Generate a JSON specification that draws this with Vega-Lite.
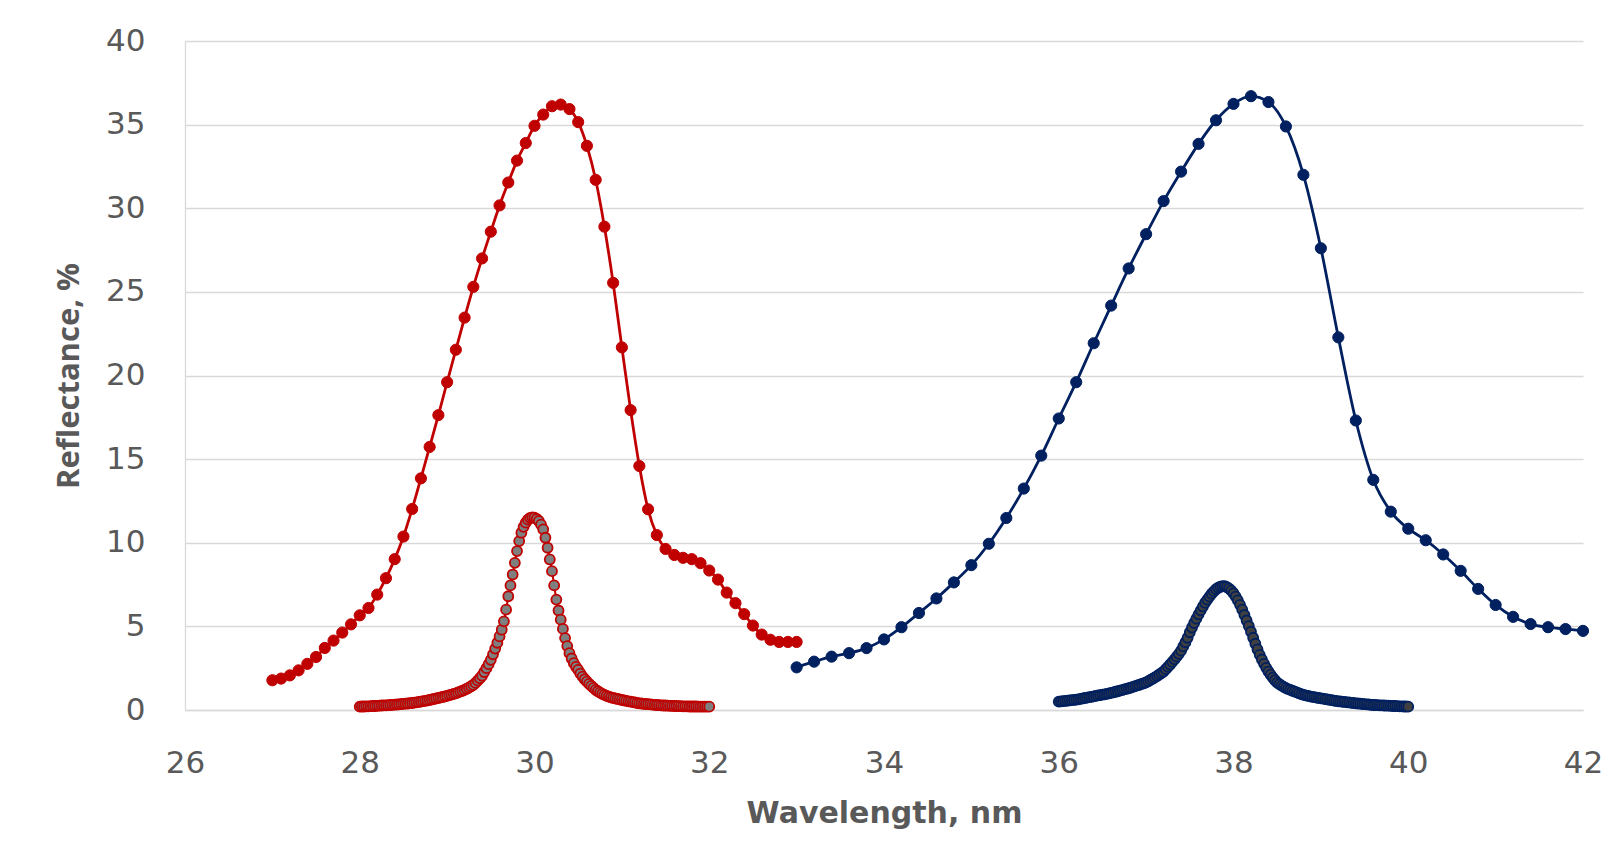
{
  "$schema": "https://vega.github.io/schema/vega-lite/v6.json",
  "autosize": {"type": "none"},
  "padding": {"left": 185, "top": 41, "right": 39, "bottom": 150},
  "width": 1398,
  "height": 669,
  "background": "white",
  "config": {"view": {"stroke": null}},
  "datasets": {
    "redWide": [
      {"x":27.0,"y":1.78},{"x":27.1,"y":1.88},{"x":27.2,"y":2.07},{"x":27.3,"y":2.37},{"x":27.4,"y":2.76},{"x":27.5,"y":3.17},{"x":27.6,"y":3.71},{"x":27.7,"y":4.15},{"x":27.8,"y":4.63},{"x":27.9,"y":5.12},
      {"x":28.0,"y":5.66},{"x":28.1,"y":6.1},{"x":28.2,"y":6.9},{"x":28.3,"y":7.88},{"x":28.4,"y":9.02},{"x":28.5,"y":10.37},{"x":28.6,"y":12.02},{"x":28.7,"y":13.85},{"x":28.8,"y":15.73},{"x":28.9,"y":17.63},
      {"x":29.0,"y":19.6},{"x":29.1,"y":21.54},{"x":29.2,"y":23.46},{"x":29.3,"y":25.3},{"x":29.4,"y":27.0},{"x":29.5,"y":28.6},{"x":29.6,"y":30.17},{"x":29.7,"y":31.54},{"x":29.8,"y":32.85},{"x":29.9,"y":33.9},
      {"x":30.0,"y":34.93},{"x":30.1,"y":35.6},{"x":30.2,"y":36.1},{"x":30.3,"y":36.2},{"x":30.4,"y":35.93},{"x":30.5,"y":35.15},{"x":30.6,"y":33.73},{"x":30.7,"y":31.7},{"x":30.8,"y":28.9},{"x":30.9,"y":25.54},
      {"x":31.0,"y":21.68},{"x":31.1,"y":17.93},{"x":31.2,"y":14.59},{"x":31.3,"y":12.0},{"x":31.4,"y":10.46},{"x":31.5,"y":9.63},{"x":31.6,"y":9.27},{"x":31.7,"y":9.1},{"x":31.8,"y":9.02},{"x":31.9,"y":8.78},
      {"x":32.0,"y":8.34},{"x":32.1,"y":7.8},{"x":32.2,"y":7.02},{"x":32.3,"y":6.39},{"x":32.4,"y":5.73},{"x":32.5,"y":5.05},{"x":32.6,"y":4.51},{"x":32.7,"y":4.2},{"x":32.8,"y":4.07},{"x":32.9,"y":4.07},{"x":33.0,"y":4.07}
    ],
    "redNarrow": [
      {"x":28.000,"y":0.20},{"x":28.025,"y":0.21},{"x":28.050,"y":0.21},{"x":28.075,"y":0.22},{"x":28.100,"y":0.22},{"x":28.125,"y":0.23},{"x":28.150,"y":0.24},{"x":28.175,"y":0.24},
      {"x":28.200,"y":0.25},{"x":28.225,"y":0.26},{"x":28.250,"y":0.27},{"x":28.275,"y":0.28},{"x":28.300,"y":0.28},{"x":28.325,"y":0.29},{"x":28.350,"y":0.30},{"x":28.375,"y":0.31},
      {"x":28.400,"y":0.32},{"x":28.425,"y":0.33},{"x":28.450,"y":0.34},{"x":28.475,"y":0.36},{"x":28.500,"y":0.37},{"x":28.525,"y":0.38},{"x":28.550,"y":0.39},{"x":28.575,"y":0.41},
      {"x":28.600,"y":0.42},{"x":28.625,"y":0.44},{"x":28.650,"y":0.46},{"x":28.675,"y":0.48},{"x":28.700,"y":0.50},{"x":28.725,"y":0.53},{"x":28.750,"y":0.55},{"x":28.775,"y":0.57},
      {"x":28.800,"y":0.60},{"x":28.825,"y":0.63},{"x":28.850,"y":0.66},{"x":28.875,"y":0.69},{"x":28.900,"y":0.72},{"x":28.925,"y":0.75},{"x":28.950,"y":0.78},{"x":28.975,"y":0.82},
      {"x":29.000,"y":0.85},{"x":29.025,"y":0.89},{"x":29.050,"y":0.92},{"x":29.075,"y":0.96},{"x":29.100,"y":1.00},{"x":29.125,"y":1.05},{"x":29.150,"y":1.10},{"x":29.175,"y":1.15},
      {"x":29.200,"y":1.20},{"x":29.225,"y":1.27},{"x":29.250,"y":1.34},{"x":29.275,"y":1.42},{"x":29.300,"y":1.50},{"x":29.325,"y":1.62},{"x":29.350,"y":1.76},{"x":29.375,"y":1.90},
      {"x":29.400,"y":2.05},{"x":29.425,"y":2.27},{"x":29.450,"y":2.50},{"x":29.475,"y":2.74},{"x":29.500,"y":3.00},{"x":29.525,"y":3.33},{"x":29.550,"y":3.67},{"x":29.575,"y":4.02},
      {"x":29.600,"y":4.40},{"x":29.625,"y":4.80},{"x":29.650,"y":5.30},{"x":29.675,"y":6.00},{"x":29.700,"y":6.80},{"x":29.725,"y":7.45},{"x":29.750,"y":8.10},{"x":29.775,"y":8.80},
      {"x":29.800,"y":9.50},{"x":29.825,"y":10.10},{"x":29.850,"y":10.60},{"x":29.875,"y":10.95},{"x":29.900,"y":11.20},{"x":29.925,"y":11.38},{"x":29.950,"y":11.48},{"x":29.975,"y":11.52},
      {"x":30.000,"y":11.50},{"x":30.025,"y":11.42},{"x":30.050,"y":11.30},{"x":30.075,"y":11.08},{"x":30.100,"y":10.80},{"x":30.125,"y":10.30},{"x":30.150,"y":9.70},{"x":30.175,"y":9.00},
      {"x":30.200,"y":8.30},{"x":30.225,"y":7.45},{"x":30.250,"y":6.60},{"x":30.275,"y":5.95},{"x":30.300,"y":5.40},{"x":30.325,"y":4.85},{"x":30.350,"y":4.30},{"x":30.375,"y":3.82},
      {"x":30.400,"y":3.40},{"x":30.425,"y":3.08},{"x":30.450,"y":2.80},{"x":30.475,"y":2.58},{"x":30.500,"y":2.40},{"x":30.525,"y":2.18},{"x":30.550,"y":2.00},{"x":30.575,"y":1.84},
      {"x":30.600,"y":1.70},{"x":30.625,"y":1.56},{"x":30.650,"y":1.44},{"x":30.675,"y":1.32},{"x":30.700,"y":1.20},{"x":30.725,"y":1.12},{"x":30.750,"y":1.04},{"x":30.775,"y":0.97},
      {"x":30.800,"y":0.90},{"x":30.825,"y":0.85},{"x":30.850,"y":0.80},{"x":30.875,"y":0.76},{"x":30.900,"y":0.72},{"x":30.925,"y":0.69},{"x":30.950,"y":0.66},{"x":30.975,"y":0.63},
      {"x":31.000,"y":0.60},{"x":31.025,"y":0.57},{"x":31.050,"y":0.55},{"x":31.075,"y":0.52},{"x":31.100,"y":0.50},{"x":31.125,"y":0.47},{"x":31.150,"y":0.45},{"x":31.175,"y":0.42},
      {"x":31.200,"y":0.40},{"x":31.225,"y":0.39},{"x":31.250,"y":0.37},{"x":31.275,"y":0.36},{"x":31.300,"y":0.35},{"x":31.325,"y":0.34},{"x":31.350,"y":0.32},{"x":31.375,"y":0.31},
      {"x":31.400,"y":0.30},{"x":31.425,"y":0.29},{"x":31.450,"y":0.28},{"x":31.475,"y":0.27},{"x":31.500,"y":0.27},{"x":31.525,"y":0.26},{"x":31.550,"y":0.25},{"x":31.575,"y":0.25},
      {"x":31.600,"y":0.24},{"x":31.625,"y":0.24},{"x":31.650,"y":0.23},{"x":31.675,"y":0.23},{"x":31.700,"y":0.22},{"x":31.725,"y":0.22},{"x":31.750,"y":0.22},{"x":31.775,"y":0.21},
      {"x":31.800,"y":0.21},{"x":31.825,"y":0.21},{"x":31.850,"y":0.21},{"x":31.875,"y":0.20},{"x":31.900,"y":0.20},{"x":31.925,"y":0.20},{"x":31.950,"y":0.20},{"x":31.975,"y":0.20},
      {"x":32.000,"y":0.20}
    ],
    "blueWide": [
      {"x":33.0,"y":2.55},{"x":33.2,"y":2.89},{"x":33.4,"y":3.19},{"x":33.6,"y":3.40},{"x":33.8,"y":3.70},{"x":34.0,"y":4.22},{"x":34.2,"y":4.95},{"x":34.4,"y":5.80},{"x":34.6,"y":6.67},{"x":34.8,"y":7.63},
      {"x":35.0,"y":8.66},{"x":35.2,"y":9.94},{"x":35.4,"y":11.48},{"x":35.6,"y":13.24},{"x":35.8,"y":15.21},{"x":36.0,"y":17.43},{"x":36.2,"y":19.6},{"x":36.4,"y":21.93},{"x":36.6,"y":24.18},{"x":36.8,"y":26.4},
      {"x":37.0,"y":28.45},{"x":37.2,"y":30.43},{"x":37.4,"y":32.19},{"x":37.6,"y":33.85},{"x":37.8,"y":35.26},{"x":38.0,"y":36.24},{"x":38.2,"y":36.7},{"x":38.4,"y":36.35},{"x":38.6,"y":34.89},{"x":38.8,"y":32.0},
      {"x":39.0,"y":27.61},{"x":39.2,"y":22.28},{"x":39.4,"y":17.31},{"x":39.6,"y":13.76},{"x":39.8,"y":11.86},{"x":40.0,"y":10.84},{"x":40.2,"y":10.15},{"x":40.4,"y":9.3},{"x":40.6,"y":8.32},{"x":40.8,"y":7.24},
      {"x":41.0,"y":6.28},{"x":41.2,"y":5.57},{"x":41.4,"y":5.14},{"x":41.6,"y":4.95},{"x":41.8,"y":4.84},{"x":42.0,"y":4.73}
    ],
    "blueNarrow": [
      {"x":36.000,"y":0.50},{"x":36.025,"y":0.51},{"x":36.050,"y":0.53},{"x":36.075,"y":0.54},{"x":36.100,"y":0.56},{"x":36.125,"y":0.57},{"x":36.150,"y":0.59},{"x":36.175,"y":0.60},
      {"x":36.200,"y":0.62},{"x":36.225,"y":0.64},{"x":36.250,"y":0.67},{"x":36.275,"y":0.69},{"x":36.300,"y":0.72},{"x":36.325,"y":0.74},{"x":36.350,"y":0.77},{"x":36.375,"y":0.79},
      {"x":36.400,"y":0.82},{"x":36.425,"y":0.84},{"x":36.450,"y":0.87},{"x":36.475,"y":0.89},{"x":36.500,"y":0.92},{"x":36.525,"y":0.94},{"x":36.550,"y":0.97},{"x":36.575,"y":0.99},
      {"x":36.600,"y":1.02},{"x":36.625,"y":1.05},{"x":36.650,"y":1.09},{"x":36.675,"y":1.12},{"x":36.700,"y":1.16},{"x":36.725,"y":1.19},{"x":36.750,"y":1.23},{"x":36.775,"y":1.26},
      {"x":36.800,"y":1.30},{"x":36.825,"y":1.34},{"x":36.850,"y":1.38},{"x":36.875,"y":1.43},{"x":36.900,"y":1.47},{"x":36.925,"y":1.51},{"x":36.950,"y":1.56},{"x":36.975,"y":1.60},
      {"x":37.000,"y":1.65},{"x":37.025,"y":1.72},{"x":37.050,"y":1.80},{"x":37.075,"y":1.87},{"x":37.100,"y":1.95},{"x":37.125,"y":2.03},{"x":37.150,"y":2.12},{"x":37.175,"y":2.21},
      {"x":37.200,"y":2.30},{"x":37.225,"y":2.44},{"x":37.250,"y":2.58},{"x":37.275,"y":2.72},{"x":37.300,"y":2.88},{"x":37.325,"y":3.03},{"x":37.350,"y":3.19},{"x":37.375,"y":3.36},
      {"x":37.400,"y":3.55},{"x":37.425,"y":3.80},{"x":37.450,"y":4.05},{"x":37.475,"y":4.32},{"x":37.500,"y":4.65},{"x":37.525,"y":4.93},{"x":37.550,"y":5.20},{"x":37.575,"y":5.46},
      {"x":37.600,"y":5.72},{"x":37.625,"y":5.96},{"x":37.650,"y":6.19},{"x":37.675,"y":6.41},{"x":37.700,"y":6.60},{"x":37.725,"y":6.78},{"x":37.750,"y":6.95},{"x":37.775,"y":7.09},
      {"x":37.800,"y":7.22},{"x":37.825,"y":7.31},{"x":37.850,"y":7.37},{"x":37.875,"y":7.40},{"x":37.900,"y":7.40},{"x":37.925,"y":7.35},{"x":37.950,"y":7.26},{"x":37.975,"y":7.14},
      {"x":38.000,"y":6.98},{"x":38.025,"y":6.78},{"x":38.050,"y":6.55},{"x":38.075,"y":6.29},{"x":38.100,"y":6.00},{"x":38.125,"y":5.68},{"x":38.150,"y":5.35},{"x":38.175,"y":5.02},
      {"x":38.200,"y":4.68},{"x":38.225,"y":4.32},{"x":38.250,"y":3.96},{"x":38.275,"y":3.62},{"x":38.300,"y":3.30},{"x":38.325,"y":3.02},{"x":38.350,"y":2.76},{"x":38.375,"y":2.52},
      {"x":38.400,"y":2.30},{"x":38.425,"y":2.11},{"x":38.450,"y":1.94},{"x":38.475,"y":1.78},{"x":38.500,"y":1.64},{"x":38.525,"y":1.55},{"x":38.550,"y":1.46},{"x":38.575,"y":1.38},
      {"x":38.600,"y":1.31},{"x":38.625,"y":1.25},{"x":38.650,"y":1.20},{"x":38.675,"y":1.15},{"x":38.700,"y":1.10},{"x":38.725,"y":1.05},{"x":38.750,"y":1.00},{"x":38.775,"y":0.95},
      {"x":38.800,"y":0.91},{"x":38.825,"y":0.88},{"x":38.850,"y":0.85},{"x":38.875,"y":0.82},{"x":38.900,"y":0.79},{"x":38.925,"y":0.77},{"x":38.950,"y":0.74},{"x":38.975,"y":0.72},
      {"x":39.000,"y":0.70},{"x":39.025,"y":0.68},{"x":39.050,"y":0.65},{"x":39.075,"y":0.63},{"x":39.100,"y":0.61},{"x":39.125,"y":0.59},{"x":39.150,"y":0.56},{"x":39.175,"y":0.54},
      {"x":39.200,"y":0.52},{"x":39.225,"y":0.51},{"x":39.250,"y":0.49},{"x":39.275,"y":0.48},{"x":39.300,"y":0.46},{"x":39.325,"y":0.45},{"x":39.350,"y":0.43},{"x":39.375,"y":0.42},
      {"x":39.400,"y":0.40},{"x":39.425,"y":0.39},{"x":39.450,"y":0.38},{"x":39.475,"y":0.36},{"x":39.500,"y":0.35},{"x":39.525,"y":0.34},{"x":39.550,"y":0.33},{"x":39.575,"y":0.31},
      {"x":39.600,"y":0.30},{"x":39.625,"y":0.30},{"x":39.650,"y":0.29},{"x":39.675,"y":0.28},{"x":39.700,"y":0.28},{"x":39.725,"y":0.27},{"x":39.750,"y":0.26},{"x":39.775,"y":0.26},
      {"x":39.800,"y":0.25},{"x":39.825,"y":0.24},{"x":39.850,"y":0.24},{"x":39.875,"y":0.23},{"x":39.900,"y":0.22},{"x":39.925,"y":0.22},{"x":39.950,"y":0.21},{"x":39.975,"y":0.21},
      {"x":40.000,"y":0.20}
    ]
  },
  "encoding": {
    "x": {
      "field": "x", "type": "quantitative",
      "scale": {"domain": [26, 42], "nice": false, "zero": false},
      "axis": {
        "title": "Wavelength, nm",
        "values": [26, 28, 30, 32, 34, 36, 38, 40, 42],
        "grid": false, "ticks": false,
        "domain": true, "domainColor": "#d9d9d9", "domainWidth": 1.3,
        "labelFont": "DejaVu Sans", "labelFontSize": 31, "labelColor": "#595959",
        "labelPadding": 38, "labelFlush": false, "labelOverlap": false,
        "titleFont": "DejaVu Sans", "titleFontWeight": "bold", "titleFontSize": 30,
        "titleColor": "#595959", "titleBaseline": "alphabetic", "titleAlign": "center",
        "titleX": 699, "titleY": 112
      }
    },
    "y": {
      "field": "y", "type": "quantitative",
      "scale": {"domain": [0, 40], "nice": false},
      "axis": {
        "title": "Reflectance, %",
        "values": [0, 5, 10, 15, 20, 25, 30, 35, 40],
        "grid": true, "gridColor": "#d9d9d9", "gridWidth": 1.3,
        "ticks": false,
        "domain": true, "domainColor": "#d9d9d9", "domainWidth": 1.3,
        "labelFont": "DejaVu Sans", "labelFontSize": 31, "labelColor": "#595959",
        "labelPadding": 40, "labelOverlap": false, "labelFlush": false,
        "titleFont": "Open Sans", "titleFontWeight": "bold", "titleFontSize": 31,
        "titleColor": "#595959", "titleBaseline": "alphabetic", "titleAlign": "center",
        "titleAngle": -90, "titleX": -107, "titleY": 334.5
      }
    }
  },
  "layer": [
    {
      "data": {"name": "redWide"},
      "layer": [
        {"mark": {"type": "line", "color": "#c00000", "strokeWidth": 2.8, "interpolate": "monotone"}, "encoding": {}},
        {"mark": {"type": "point", "filled": true, "fill": "#c00000", "stroke": "#c00000", "strokeWidth": 1, "size": 125, "opacity": 1}, "encoding": {}}
      ]
    },
    {
      "data": {"name": "redNarrow"},
      "layer": [
        {"mark": {"type": "line", "color": "#c00000", "strokeWidth": 2, "interpolate": "monotone"}, "encoding": {}},
        {"mark": {"type": "point", "filled": true, "fill": "#7f7f7f", "stroke": "#c00000", "strokeWidth": 1.8, "size": 100, "opacity": 1, "strokeOpacity": 1, "fillOpacity": 1}, "encoding": {}}
      ]
    },
    {
      "data": {"name": "blueWide"},
      "layer": [
        {"mark": {"type": "line", "color": "#002060", "strokeWidth": 2.8, "interpolate": "monotone"}, "encoding": {}},
        {"mark": {"type": "point", "filled": true, "fill": "#002060", "stroke": "#002060", "strokeWidth": 1, "size": 125, "opacity": 1}, "encoding": {}}
      ]
    },
    {
      "data": {"name": "blueNarrow"},
      "layer": [
        {"mark": {"type": "line", "color": "#002060", "strokeWidth": 2, "interpolate": "monotone"}, "encoding": {}},
        {"mark": {"type": "point", "filled": true, "fill": "#404040", "stroke": "#002060", "strokeWidth": 1.8, "size": 100, "opacity": 1, "strokeOpacity": 1, "fillOpacity": 1}, "encoding": {}}
      ]
    }
  ]
}
